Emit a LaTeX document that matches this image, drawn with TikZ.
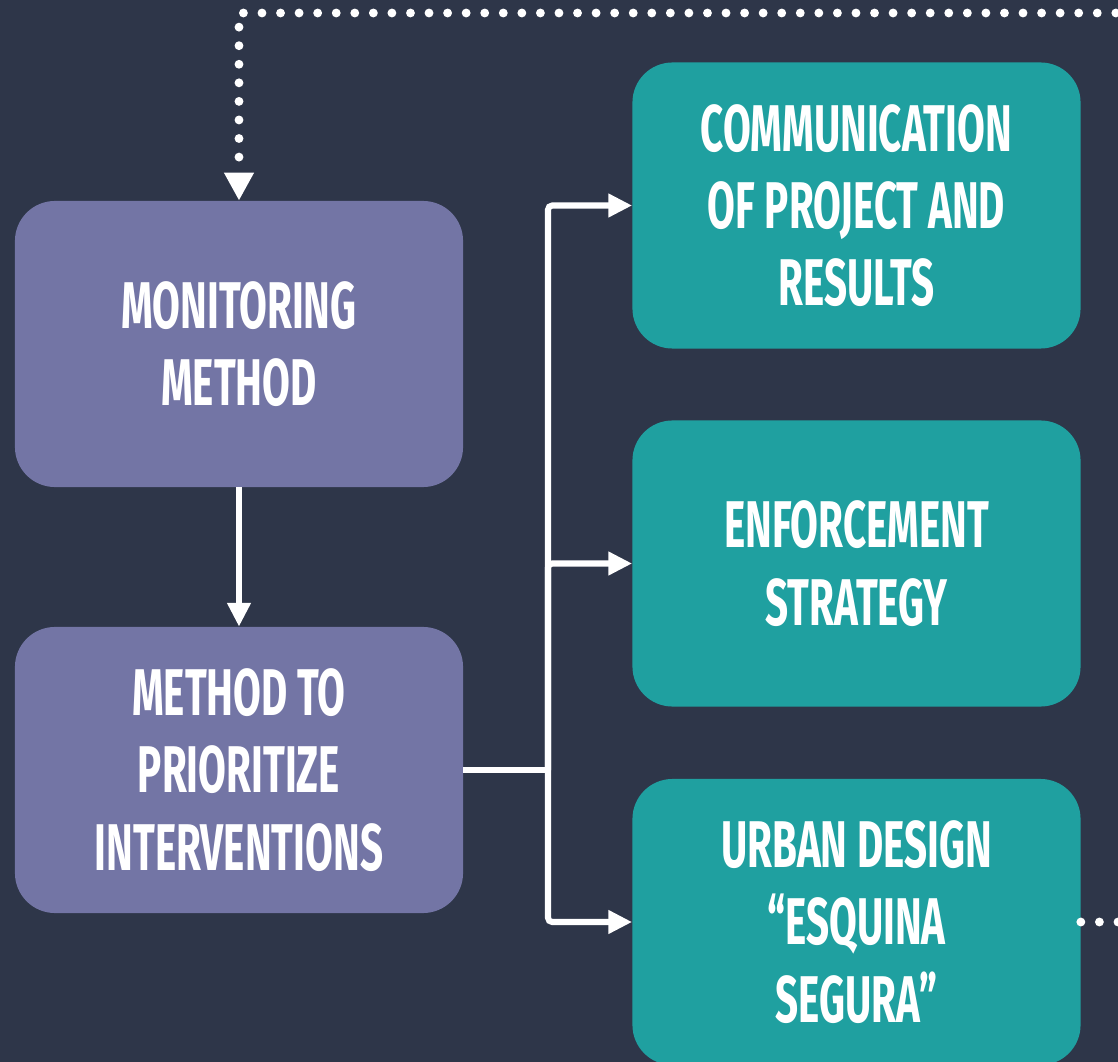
\documentclass[tikz,border=0pt]{standalone}
\usepackage{fontspec}
\newfontfamily\boxfont{Fira Sans}[FakeStretch=0.61]
\usepackage{tikz}
\usetikzlibrary{arrows.meta}
\definecolor{bgnavy}{HTML}{2E3649}
\definecolor{lilac}{HTML}{7375A5}
\definecolor{boxteal}{HTML}{1FA0A0}
\tikzstyle{chart}=[x=0.025cm, y=-0.025cm, font=\boxfont\bfseries\fontsize{47}{55}\selectfont]
\tikzstyle{box}=[rounded corners=1cm, minimum width=11.2cm, minimum height=7.15cm, align=center, text=white, inner sep=0pt]
\tikzstyle{stage}=[box, fill=lilac]
\tikzstyle{outcome}=[box, fill=boxteal]
\tikzstyle{link}=[draw=white, line width=4.3pt]
\tikzstyle{flow}=[link, rounded corners=3pt, -{Triangle[width=16pt, length=17pt]}]
\tikzstyle{loop}=[draw=white, line width=6.3pt, line cap=round, dash pattern=on 0pt off 13.2pt, -{Triangle[width=20pt, length=20pt]}]

\begin{document}
\begin{tikzpicture}[chart]
	\fill[bgnavy] (0,0) rectangle (1118,1062);
	\useasboundingbox (0,0) rectangle (1118,1062);
	\clip (0,0) rectangle (1118,1062);
	\draw (239,344) node[stage] (monitor) {MONITORING\\METHOD};
	\draw (239,770) node[stage] (prio) {METHOD TO\\PRIORITIZE\\INTERVENTIONS};
	\draw (856.5,205.5) node[outcome] (comm) {COMMUNICATION\\OF PROJECT AND\\RESULTS};
	\draw (856.5,563.5) node[outcome] (enf) {ENFORCEMENT\\STRATEGY};
	\draw (856.5,922) node[outcome] (urban) {URBAN DESIGN\\“ESQUINA\\SEGURA”};
	\coordinate (fork) at (548,770);
	\coordinate (offright) at (1145,922);
	\coordinate (topright) at (1145,13);
	\coordinate (topleft) at (239,13);
	\draw[flow] (monitor) -- (prio);
	\draw[link] (prio.east) -- (fork);
	\draw[flow] (fork) |- (comm.west);
	\draw[flow] (fork) |- (enf.west);
	\draw[flow] (fork) |- (urban.west);
	% loop back to monitoring, leaves the frame on the right
	\draw[loop] (urban.east) -- (offright) -- (topright) -- (topleft) -- (monitor.north);
\end{tikzpicture}
\end{document}
